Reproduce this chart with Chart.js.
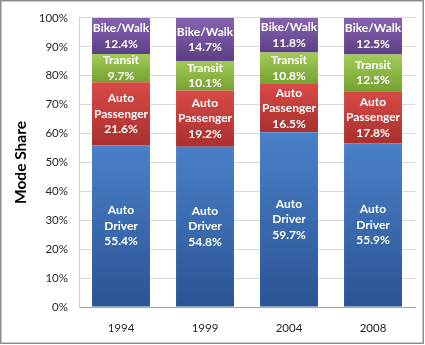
<!DOCTYPE html>
<html>
<head>
<meta charset="utf-8">
<script src="https://cdn.jsdelivr.net/npm/chart.js@4/dist/chart.umd.min.js"></script>
<style>
  html, body { margin: 0; padding: 0; background: #fff; }
  #wrap { width: 425px; height: 345px; position: relative; }
</style>
</head>
<body>
<div id="wrap"><canvas id="c" width="425" height="345"></canvas></div>
<script>
// Survey years
const years = ['1994', '1999', '2004', '2008'];

// Mode shares (percent) as reported for each year
const autoDriver    = [55.4, 54.8, 59.7, 55.9];
const autoPassenger = [21.6, 19.2, 16.5, 17.8];
const transit       = [9.7, 10.1, 10.8, 12.5];
const bikeWalk      = [12.4, 14.7, 11.8, 12.5];

// Label text for each mode (lines inside the bar)
const modeNames = [['Auto', 'Driver'], ['Auto', 'Passenger'], ['Transit'], ['Bike/Walk']];

// Y-axis tick values
const yTicks = [0, 10, 20, 30, 40, 50, 60, 70, 80, 90, 100];

const series = [autoDriver, autoPassenger, transit, bikeWalk];
// Column totals; each stack is drawn as a share of 100%
const totals = years.map((_, i) => series.reduce((s, arr) => s + arr[i], 0));
const shares = series.map(arr => arr.map((v, i) => v / totals[i] * 100));

// Top (light) and bottom (dark) colours of each segment's shading
const shades = [
  ['#4a80c9', '#2a5494'],
  ['#d84a47', '#a9302d'],
  ['#a2cc58', '#76a232'],
  ['#8563b0', '#5c3f85']
];

function segmentFill(ctx) {
  const chart = ctx.chart;
  const ds = ctx.datasetIndex, i = ctx.dataIndex;
  const y = chart.scales && chart.scales.y;
  if (!y || i === undefined || y.getPixelForValue(100) === undefined) return shades[ds][1];
  let start = 0;
  for (let k = 0; k < ds; k++) start += shares[k][i];
  const end = start + shares[ds][i];
  const top = y.getPixelForValue(end), bottom = y.getPixelForValue(start);
  if (!isFinite(top) || !isFinite(bottom) || top === bottom) return shades[ds][1];
  const g = chart.ctx.createLinearGradient(0, top, 0, bottom);
  g.addColorStop(0, shades[ds][0]);
  g.addColorStop(1, shades[ds][1]);
  return g;
}

const frame = {
  id: 'frame',
  beforeDraw(chart) {
    const c = chart.ctx;
    c.save();
    c.fillStyle = '#ffffff';
    c.fillRect(0, 0, chart.width, chart.height);
    c.restore();
  },
  afterDraw(chart) {
    const c = chart.ctx;
    c.save();
    c.strokeStyle = '#8c8c8c';
    c.lineWidth = 1.5;
    c.strokeRect(0.75, 0.75, chart.width - 2.5, chart.height - 2.5);
    c.restore();
  }
};

const segmentLabels = {
  id: 'segmentLabels',
  afterDatasetsDraw(chart) {
    const c = chart.ctx;
    c.save();
    c.fillStyle = '#ffffff';
    c.font = 'bold 12px Lato, "Open Sans", sans-serif';
    c.textAlign = 'center';
    c.textBaseline = 'middle';
    const lh = 15.5;
    chart.data.datasets.forEach((ds, di) => {
      const meta = chart.getDatasetMeta(di);
      meta.data.forEach((bar, i) => {
        const lines = modeNames[di].concat([series[di][i].toFixed(1) + '%']);
        const cy = (bar.y + bar.base) / 2;
        const y0 = cy - (lines.length - 1) * lh / 2;
        lines.forEach((t, k) => c.fillText(t, bar.x, y0 + k * lh));
      });
    });
    c.restore();
  }
};

new Chart(document.getElementById('c'), {
  type: 'bar',
  data: {
    labels: years,
    datasets: shares.map((d, k) => ({
      label: modeNames[k].join(' '),
      data: d,
      backgroundColor: segmentFill,
      borderWidth: 0,
      barPercentage: 0.69,
      categoryPercentage: 1
    }))
  },
  options: {
    responsive: false,
    animation: false,
    layout: { padding: { top: 13, right: 10, left: 1, bottom: 0 } },
    plugins: { legend: { display: false }, tooltip: { enabled: false } },
    scales: {
      x: {
        stacked: true,
        grid: { display: false, drawTicks: false },
        border: { color: '#a6a6a6', width: 1 },
        ticks: { color: '#262626', font: { family: 'Lato, "Open Sans", sans-serif', size: 11.5 }, padding: 14 },
        afterFit(s) { s.height = 38; }
      },
      y: {
        stacked: true,
        min: 0,
        max: 100,
        afterBuildTicks(s) { s.ticks = yTicks.map(v => ({ value: v })); },
        grid: { color: '#d9d9d9', drawTicks: false },
        border: { color: '#d0d0d0', width: 1 },
        ticks: {
          color: '#262626',
          font: { family: 'Lato, "Open Sans", sans-serif', size: 11.5 },
          padding: 11,
          callback: v => v + '%'
        },
        title: {
          display: true,
          text: 'Mode Share',
          color: '#000000',
          font: { family: 'Lato, "Open Sans", sans-serif', size: 15.5, weight: 'bold' },
          padding: { top: 11, bottom: 0 }
        },
        afterFit(s) { s.width = 78; }
      }
    }
  },
  plugins: [frame, segmentLabels]
});
</script>
</body>
</html>
